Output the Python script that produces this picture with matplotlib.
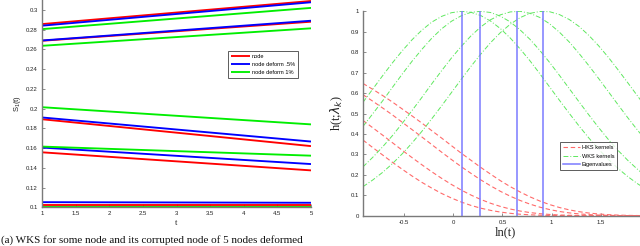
import matplotlib
matplotlib.use("Agg")
import matplotlib.pyplot as plt

# ---------------- left panel data ----------------
t_ends = [1, 5]
node_start = [0.2856, 0.2687, 0.1892, 0.1557, 0.1019]
node_end = [0.3090, 0.2880, 0.1620, 0.1374, 0.1019]
def5_start = [0.2840, 0.2690, 0.1910, 0.1605, 0.1052]
def5_end = [0.3077, 0.2890, 0.1666, 0.1438, 0.1046]
def1_start = [0.2805, 0.2636, 0.2014, 0.1615, 0.1000]
def1_end = [0.3020, 0.2813, 0.1840, 0.1523, 0.1000]
left_labels = ["node", "node deform .5%", "node deform 1%"]
left_xticks = [1, 1.5, 2, 2.5, 3, 3.5, 4, 4.5, 5]
left_yticks = [0.1, 0.12, 0.14, 0.16, 0.18, 0.2, 0.22, 0.24, 0.26, 0.28, 0.3]

# ---------------- right panel data ----------------
lnt = [-0.92, -0.82, -0.72, -0.62, -0.52, -0.42, -0.32, -0.22, -0.12, -0.02,
       0.08, 0.18, 0.28, 0.38, 0.48, 0.58, 0.68, 0.78, 0.88, 0.98,
       1.08, 1.18, 1.28, 1.38, 1.48, 1.58, 1.68, 1.78, 1.88, 1.98]
hks1 = [0.647, 0.618, 0.588, 0.556, 0.522, 0.488, 0.453, 0.416, 0.380, 0.343,
        0.306, 0.271, 0.236, 0.203, 0.171, 0.142, 0.116, 0.0923, 0.0719, 0.0545,
        0.0401, 0.0286, 0.0197, 0.0130, 0.0083, 0.0050, 0.0029, 0.0015, 0.0008, 0.0004]
hks2 = [0.592, 0.560, 0.527, 0.493, 0.457, 0.421, 0.385, 0.348, 0.311, 0.275,
        0.240, 0.207, 0.175, 0.146, 0.119, 0.0953, 0.0745, 0.0567, 0.0419, 0.0300,
        0.0207, 0.0138, 0.0088, 0.0053, 0.0031, 0.0017, 0.0009, 0.0004, 0.0002, 0.0001]
hks3 = [0.466, 0.430, 0.394, 0.357, 0.320, 0.284, 0.249, 0.215, 0.183, 0.153,
        0.1255, 0.1009, 0.0793, 0.0607, 0.0452, 0.0326, 0.0228, 0.0153, 0.0099, 0.0061,
        0.0035, 0.0020, 0.0010, 0.0005, 0.0002, 0.0001, 0.0, 0.0, 0.0, 0.0]
hks4 = [0.370, 0.333, 0.297, 0.261, 0.227, 0.194, 0.163, 0.135, 0.109, 0.0865,
        0.0669, 0.0503, 0.0367, 0.0260, 0.0177, 0.0116, 0.0072, 0.0043, 0.0024, 0.0013,
        0.0006, 0.0003, 0.0001, 0.0, 0.0, 0.0, 0.0, 0.0, 0.0, 0.0]
wks1 = [0.555, 0.620, 0.685, 0.748, 0.807, 0.861, 0.908, 0.947, 0.975, 0.993,
        1.000, 0.995, 0.979, 0.952, 0.915, 0.869, 0.816, 0.758, 0.695, 0.630,
        0.565, 0.501, 0.439, 0.380, 0.325, 0.275, 0.230, 0.190, 0.155, 0.125]
wks2 = [0.437, 0.499, 0.562, 0.628, 0.693, 0.756, 0.814, 0.868, 0.914, 0.951,
        0.978, 0.995, 1.000, 0.994, 0.976, 0.948, 0.909, 0.863, 0.809, 0.750,
        0.687, 0.622, 0.557, 0.493, 0.431, 0.372, 0.318, 0.269, 0.225, 0.185]
wks3 = [0.239, 0.286, 0.337, 0.392, 0.452, 0.515, 0.579, 0.645, 0.709, 0.771,
        0.828, 0.880, 0.924, 0.959, 0.983, 0.997, 1.000, 0.990, 0.970, 0.939,
        0.898, 0.850, 0.794, 0.734, 0.671, 0.606, 0.541, 0.477, 0.416, 0.358]
wks4 = [0.142, 0.175, 0.212, 0.255, 0.303, 0.356, 0.413, 0.474, 0.537, 0.602,
        0.667, 0.731, 0.791, 0.847, 0.896, 0.937, 0.969, 0.990, 0.999, 0.998,
        0.984, 0.960, 0.926, 0.882, 0.831, 0.774, 0.712, 0.648, 0.583, 0.518]
eig_ln = [0.088, 0.275, 0.65, 0.915]
right_labels = ["HKS kernels", "WKS kernels", "Eigenvalues"]
right_xticks = [-0.5, 0, 0.5, 1, 1.5]
right_yticks = [0, 0.1, 0.2, 0.3, 0.4, 0.5, 0.6, 0.7, 0.8, 0.9, 1]
caption = "(a) WKS for some node and its corrupted node of 5 nodes deformed"

# ---------------- figure ----------------
W, H = 640, 246
fig = plt.figure(figsize=(6.4, 2.46), dpi=100)
SANS = ["Liberation Sans", "DejaVu Sans"]
SERIF = ["Liberation Serif", "DejaVu Serif"]
tick_fs = 4.3
spine_col = "#7a7a7a"
txt_col = "#222222"


def fmt(v):
    return "%g" % v


def style_axes(ax):
    for s in ["top", "right"]:
        ax.spines[s].set_visible(False)
    for s in ["left", "bottom"]:
        ax.spines[s].set_color(spine_col)
        ax.spines[s].set_linewidth(1.0)
    ax.tick_params(direction="in", length=2.5, width=0.6, colors=spine_col,
                   labelsize=tick_fs, labelcolor=txt_col, pad=3)
    for lab in ax.get_xticklabels() + ax.get_yticklabels():
        lab.set_family(SANS)


# left panel
axL = fig.add_axes([42 / W, (H - 207.3) / H, (311 - 42) / W, 207.3 / H])
axL.set_xlim(1, 5)
axL.set_ylim(0.1, 0.31)
cols = ["#ff0000", "#0000ff", "#00ee00"]
series = [(node_start, node_end), (def5_start, def5_end), (def1_start, def1_end)]
for (st, en), c, lab in zip(series, cols, left_labels):
    for i, (a, b) in enumerate(zip(st, en)):
        axL.plot(t_ends, [a, b], color=c, lw=1.35, solid_capstyle="butt",
                 label=lab if i == 0 else None, clip_on=(i != 4))
axL.set_xticks(left_xticks)
axL.set_xticklabels([fmt(v) for v in left_xticks])
axL.set_yticks(left_yticks)
axL.set_yticklabels([fmt(v) for v in left_yticks])
style_axes(axL)
axL.set_xlabel("t", family=SERIF, fontsize=6, labelpad=2, color=txt_col)
axL.set_ylabel(r"$\mathregular{S_1(t)}$", family=SANS, fontsize=5.5, labelpad=2,
               color=txt_col)
legL = axL.legend(loc="upper left", bbox_to_anchor=(227.7 / W, 1 - 50.7 / H),
                  bbox_transform=fig.transFigure, frameon=True,
                  fancybox=False, handlelength=3.3, handletextpad=0.3,
                  borderpad=0.6, labelspacing=0.5, borderaxespad=0,
                  prop={"family": SANS, "size": 4.1})
legL.get_frame().set_edgecolor("#333333")
legL.get_frame().set_linewidth(0.7)

# right panel
x0, xr = -0.92, 1.98
axR_left = 363
axR_w = (xr - x0) * 98.2
axR = fig.add_axes([axR_left / W, (H - 215.7) / H, axR_w / W, (215.7 - 11.3) / H])
axR.set_xlim(x0, xr)
axR.set_ylim(0, 1)
hks_col = "#ff6a6a"
wks_col = "#5fe85f"
eig_col = "#7a7aff"
for i, h in enumerate([hks1, hks2, hks3, hks4]):
    axR.plot(lnt, h, color=hks_col, lw=0.8, ls=(0, (4, 2.5)),
             label=right_labels[0] if i == 0 else None)
for i, w in enumerate([wks1, wks2, wks3, wks4]):
    axR.plot(lnt, w, color=wks_col, lw=0.7, ls=(0, (5, 2, 1, 2)),
             label=right_labels[1] if i == 0 else None)
for i, e in enumerate(eig_ln):
    axR.plot([e, e], [0, 1], color=eig_col, lw=1.1,
             label=right_labels[2] if i == 0 else None)
axR.set_xticks(right_xticks)
axR.set_xticklabels([fmt(v) for v in right_xticks])
axR.set_yticks(right_yticks)
axR.set_yticklabels([fmt(v) for v in right_yticks])
style_axes(axR)
axR.set_xlabel("ln(t)", family=SERIF, fontsize=9, labelpad=1, color=txt_col)
axR.set_ylabel(r"h(t;$\lambda_k$)", family=SERIF, fontsize=9, labelpad=4,
               color=txt_col)
legR = axR.legend(loc="upper left", bbox_to_anchor=(560 / W, 1 - 142.3 / H),
                  bbox_transform=fig.transFigure, frameon=True,
                  fancybox=False, handlelength=3.0, handletextpad=0.3,
                  borderpad=0.5, labelspacing=0.6, borderaxespad=0,
                  prop={"family": SANS, "size": 4.1})
legR.get_frame().set_edgecolor("#333333")
legR.get_frame().set_linewidth(0.7)

# caption at the bottom
fig.text(0.002, 0.004, caption, family=SERIF, fontsize=8, va="bottom",
         ha="left", color="#111111")

fig.savefig("out.png", dpi=100)
